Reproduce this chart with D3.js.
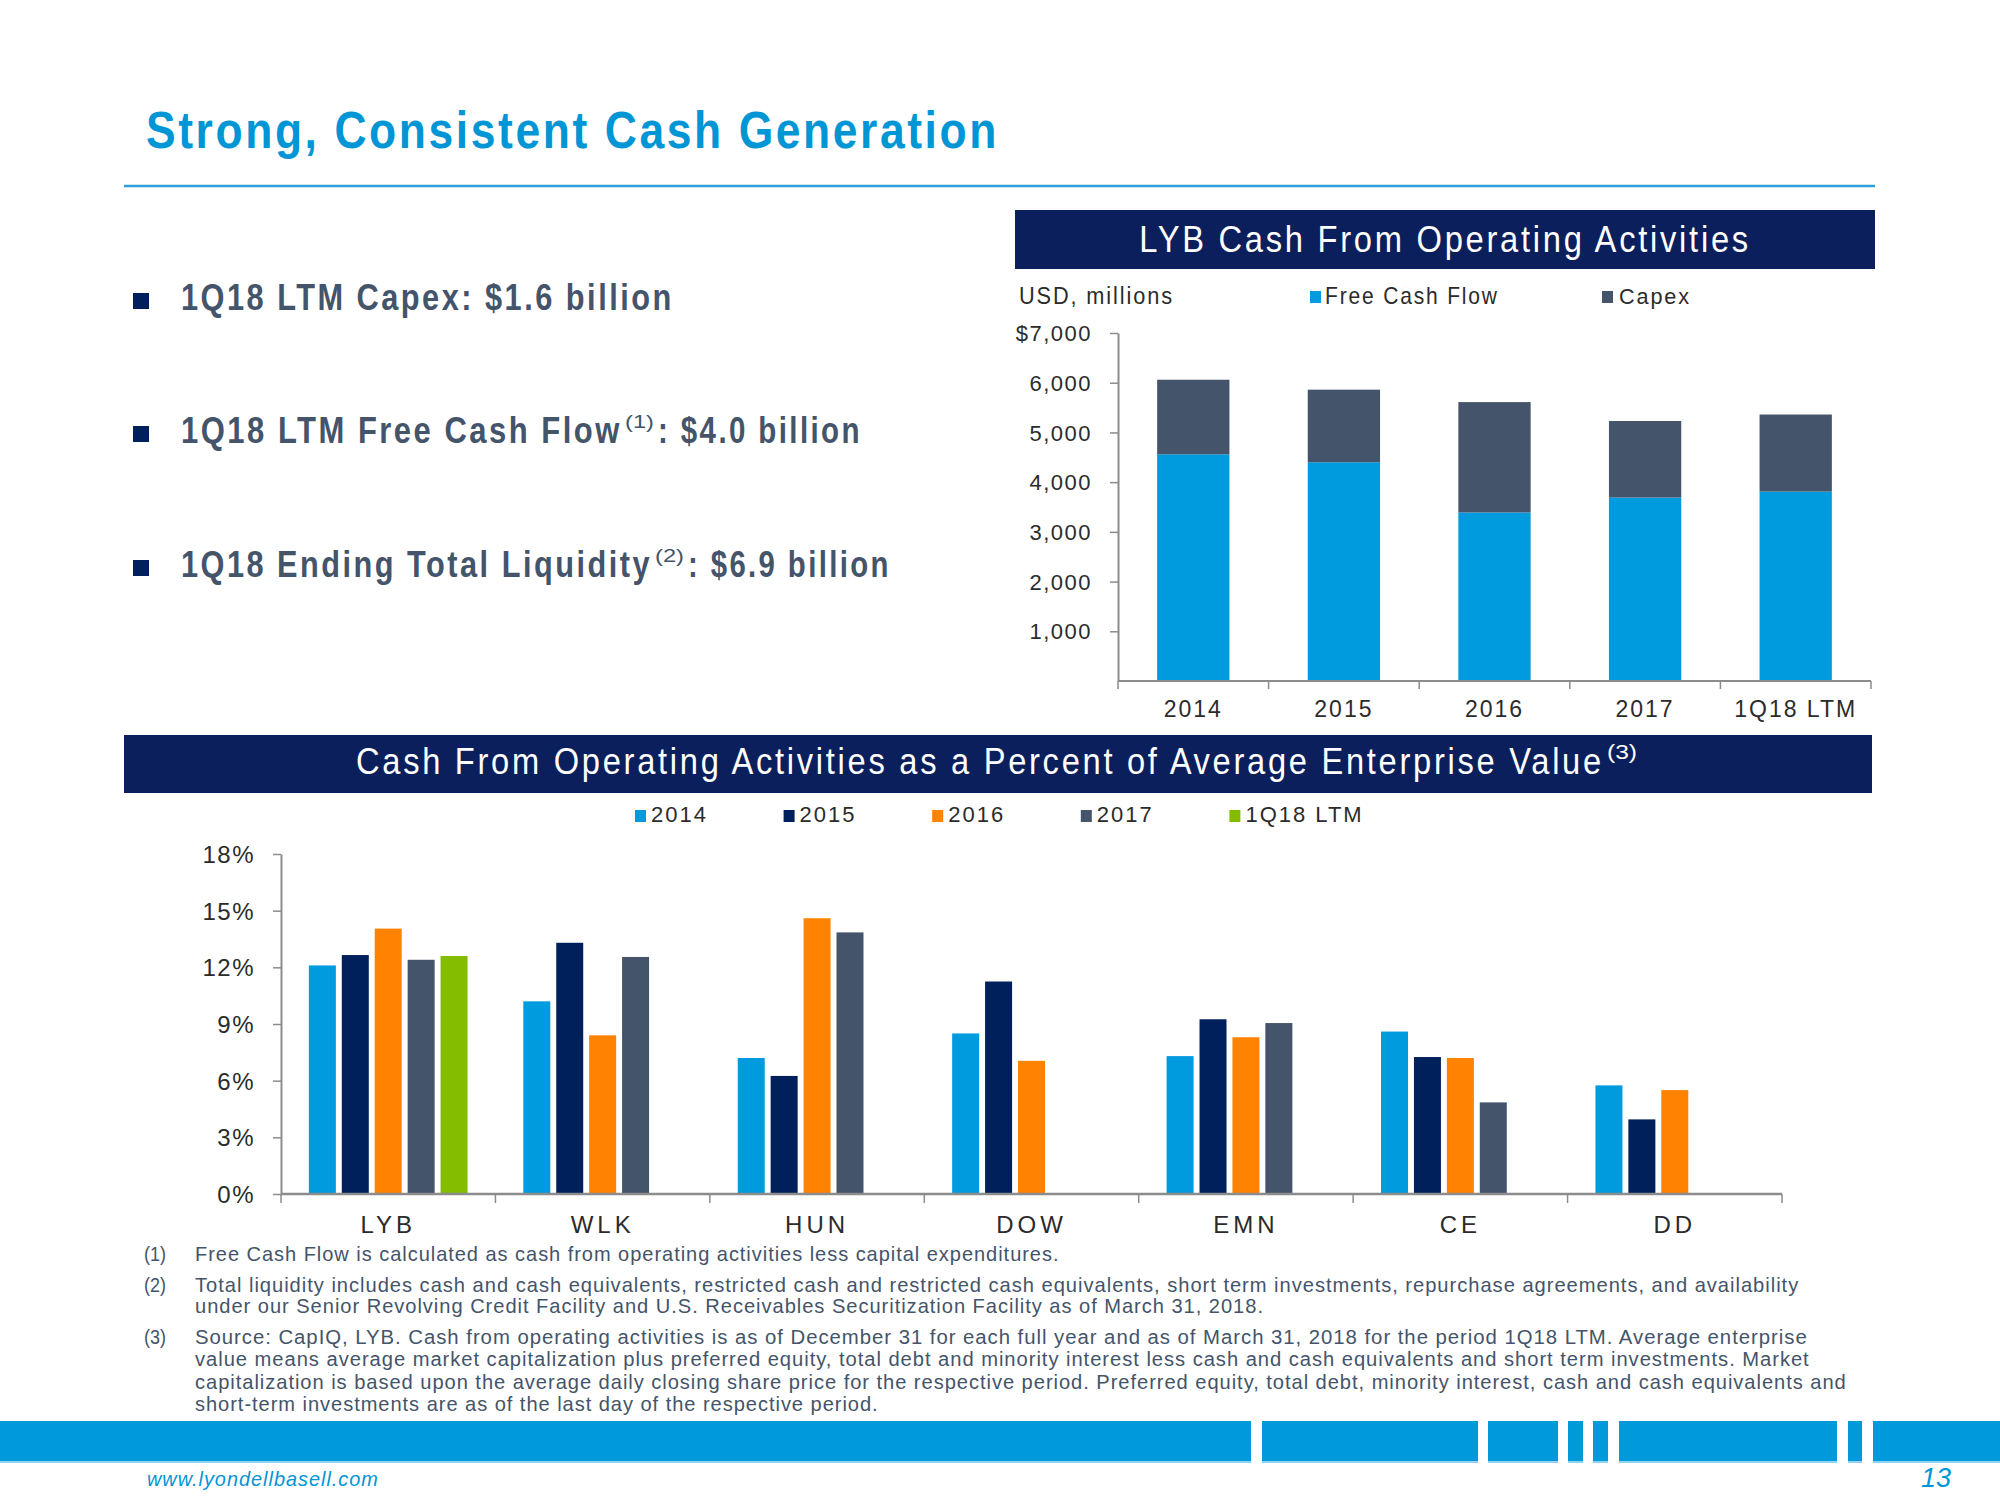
<!DOCTYPE html>
<html><head><meta charset="utf-8">
<script src="https://cdn.jsdelivr.net/npm/d3@7"></script>
<style>
body{margin:0;background:#fff;}
svg{display:block;}
text{font-family:"Liberation Sans Narrow","Arial Narrow","Liberation Sans",Arial,sans-serif;}
</style></head><body>
<svg id="c" width="2000" height="1500"></svg>
<script>
// ---------- DATA ----------
const years = ["2014", "2015", "2016", "2017", "1Q18 LTM"];
const freeCashFlow = [4560, 4400, 3390, 3690, 3810];
const capex = [1500, 1460, 2220, 1540, 1550];
const cfoTicks = [1000, 2000, 3000, 4000, 5000, 6000, 7000];

const companies = ["LYB", "WLK", "HUN", "DOW", "EMN", "CE", "DD"];
const seriesNames = ["2014", "2015", "2016", "2017", "1Q18 LTM"];
const pct2014 = [12.1, 10.2, 7.2, 8.5, 7.3, 8.6, 5.75];
const pct2015 = [12.65, 13.3, 6.25, 11.25, 9.25, 7.25, 3.95];
const pct2016 = [14.05, 8.4, 14.6, 7.05, 8.3, 7.2, 5.5];
const pct2017 = [12.4, 12.55, 13.85, null, 9.05, 4.85, null];
const pctLTM = [12.6, null, null, null, null, null, null];
const pctTicks = [0, 3, 6, 9, 12, 15, 18];

const bullets = [
  ["1Q18 LTM Capex: $1.6 billion", null, null],
  ["1Q18 LTM Free Cash Flow", "(1)", ": $4.0 billion"],
  ["1Q18 Ending Total Liquidity", "(2)", ": $6.9 billion"]
];
const footnotes = [
  ["(1)", ["Free Cash Flow is calculated as cash from operating activities less capital expenditures."]],
  ["(2)", ["Total liquidity includes cash and cash equivalents, restricted cash and restricted cash equivalents, short term investments, repurchase agreements, and availability",
           "under our Senior Revolving Credit Facility and U.S. Receivables Securitization Facility as of March 31, 2018."]],
  ["(3)", ["Source:  CapIQ, LYB. Cash from operating activities is as of December 31 for each full year and as of March 31, 2018 for the period 1Q18 LTM. Average enterprise",
           "value means average market capitalization plus preferred equity, total debt and minority interest less cash and cash equivalents and short term investments. Market",
           "capitalization is based upon the average daily closing share price for the respective period. Preferred equity, total debt, minority interest, cash and cash equivalents and",
           "short-term investments are as of the last day of the respective period."]]
];

// ---------- STYLE ----------
const C = {
  blue: "#009ADE", navy: "#00205B", orange: "#FF8200", slate: "#44546A", green: "#84BD00",
  header: "#0B1F5C", axis: "#8C8C8C", text: "#2B2B2B", gray: "#44546A"
};
const seriesColors = [C.blue, C.navy, C.orange, C.slate, C.green];

const svg = d3.select("#c");

// text helper; o.len fits the text to a width by horizontal scaling
function txt(parent, x, y, s, o = {}) {
  const t = parent.append("text").text(s)
    .attr("font-size", o.size || 20)
    .attr("fill", o.fill || C.text)
    .attr("text-anchor", o.anchor || "start");
  if (o.weight) t.attr("font-weight", o.weight);
  if (o.style) t.attr("font-style", o.style);
  if (o.ls) t.attr("letter-spacing", o.ls);
  if (o.len) {
    t.attr("x", 0).attr("y", 0);
    const w = t.node().getComputedTextLength();
    t.attr("transform", `translate(${x},${y}) scale(${w > 0 ? o.len / w : 1},1)`);
  } else {
    t.attr("x", x).attr("y", y);
  }
  return t;
}

// ---------- TITLE ----------
txt(svg, 146, 148, "Strong, Consistent Cash Generation", {size: 51, weight: "bold", fill: "#0096D6", ls: 3, len: 853});
svg.append("line").attr("x1", 124).attr("x2", 1875).attr("y1", 186).attr("y2", 186)
  .attr("stroke", "#2E9ED8").attr("stroke-width", 2.5);

// ---------- BULLETS ----------
const bulletY = [310, 443, 577];
const bulletSeg = [[181, 674], [181, 622, 625, 654, 658, 862], [181, 652, 655, 684, 688, 891]];
bullets.forEach((b, i) => {
  const y = bulletY[i], s = bulletSeg[i];
  svg.append("rect").attr("x", 133).attr("y", y - 17).attr("width", 16).attr("height", 16).attr("fill", C.navy);
  txt(svg, s[0], y, b[0], {size: 37, weight: "bold", fill: C.gray, ls: 3, len: s[1] - s[0]});
  if (b[1]) {
    txt(svg, s[2], y - 15, b[1], {size: 19, fill: C.gray, len: s[3] - s[2]});
    txt(svg, s[4], y, b[2], {size: 37, weight: "bold", fill: C.gray, ls: 3, len: s[5] - s[4]});
  }
});

// ---------- TOP CHART ----------
const topG = svg.append("g");
topG.append("rect").attr("x", 1015).attr("y", 210).attr("width", 860).attr("height", 59).attr("fill", C.header);
txt(topG, 1445, 252, "LYB Cash From Operating Activities", {size: 36, fill: "#fff", anchor: "middle", ls: 3, len: 612});
txt(topG, 1019, 304, "USD, millions", {size: 23, ls: 2, len: 155});
topG.append("rect").attr("x", 1310).attr("y", 291).attr("width", 11).attr("height", 12).attr("fill", C.blue);
txt(topG, 1325, 304, "Free Cash Flow", {size: 23, ls: 2, len: 174});
topG.append("rect").attr("x", 1602).attr("y", 291).attr("width", 11).attr("height", 12).attr("fill", C.slate);
txt(topG, 1619, 304, "Capex", {size: 23, ls: 2, len: 72});

const yT = d3.scaleLinear().domain([0, 7000]).range([681, 333]);
const xT = d3.scaleBand().domain(years).range([1118, 1871]).paddingInner(0.52).paddingOuter(0.26);
const stackData = years.map((y, i) => ({year: y, fcf: freeCashFlow[i], capex: capex[i]}));
const stacked = d3.stack().keys(["fcf", "capex"])(stackData);
const stackColors = {fcf: C.blue, capex: C.slate};
topG.selectAll("g.layer").data(stacked).join("g").attr("class", "layer").attr("fill", d => stackColors[d.key])
  .selectAll("rect").data(d => d).join("rect")
  .attr("x", d => xT(d.data.year)).attr("width", xT.bandwidth())
  .attr("y", d => yT(d[1])).attr("height", d => yT(d[0]) - yT(d[1]));

const yAxT = topG.append("g").attr("transform", "translate(1118,0)")
  .call(d3.axisLeft(yT).tickValues(cfoTicks).tickSize(8).tickPadding(18).tickSizeOuter(0)
    .tickFormat(d => d === 7000 ? "$7,000" : d3.format(",")(d)));
yAxT.select(".domain").attr("stroke", C.axis).attr("stroke-width", 2);
yAxT.selectAll(".tick line").attr("stroke", C.axis).attr("stroke-width", 1.5);
yAxT.selectAll(".tick text").attr("font-size", 22).attr("fill", C.text).attr("letter-spacing", 1.5)
  .attr("font-family", "Liberation Sans Narrow, Arial Narrow, Liberation Sans, sans-serif").attr("dy", "0.35em");

const stepT = xT.step();
const bT = years.map(d => xT(d) - stepT * xT.paddingInner() / 2).concat([1871]);
topG.append("line").attr("x1", 1118).attr("x2", 1871).attr("y1", yT(0)).attr("y2", yT(0))
  .attr("stroke", C.axis).attr("stroke-width", 2);
topG.selectAll("line.xt").data(bT).join("line").attr("class", "xt")
  .attr("x1", d => d).attr("x2", d => d).attr("y1", yT(0)).attr("y2", yT(0) + 8)
  .attr("stroke", C.axis).attr("stroke-width", 1.5);
years.forEach(y => txt(topG, xT(y) + xT.bandwidth() / 2, 717, y, {size: 23, anchor: "middle", ls: 2}));

// ---------- BOTTOM CHART ----------
const botG = svg.append("g");
botG.append("rect").attr("x", 124).attr("y", 735).attr("width", 1748).attr("height", 58).attr("fill", C.header);
txt(botG, 356, 774, "Cash From Operating Activities as a Percent of Average Enterprise Value", {size: 36, fill: "#fff", ls: 3, len: 1248});
txt(botG, 1607, 759, "(3)", {size: 20, fill: "#fff", len: 30});

const xL = d3.scaleBand().domain(seriesNames).range([635, 635 + 5 * 148.6]);
seriesNames.forEach((s, i) => {
  botG.append("rect").attr("x", xL(s)).attr("y", 810).attr("width", 11).attr("height", 12).attr("fill", seriesColors[i]);
  txt(botG, xL(s) + 16, 822, s, {size: 22, ls: 2});
});

const yB = d3.scaleLinear().domain([0, 18]).range([1194, 854]);
const xB = d3.scaleBand().domain(companies).range([281, 1782]).paddingInner(0.26).paddingOuter(0.13);
const xS = d3.scaleBand().domain(seriesNames).range([0, xB.bandwidth()]).paddingInner(0.18);
const pctSeries = [pct2014, pct2015, pct2016, pct2017, pctLTM];
const barData = [];
companies.forEach((c, ci) => pctSeries.forEach((arr, si) => {
  if (arr[ci] != null) barData.push({c, s: seriesNames[si], v: arr[ci], col: seriesColors[si]});
}));
botG.selectAll("rect.bar").data(barData).join("rect").attr("class", "bar")
  .attr("x", d => xB(d.c) + xS(d.s)).attr("width", xS.bandwidth())
  .attr("y", d => yB(d.v)).attr("height", d => yB(0) - yB(d.v)).attr("fill", d => d.col);

const yAxB = botG.append("g").attr("transform", "translate(281,0)")
  .call(d3.axisLeft(yB).tickValues(pctTicks).tickSize(8).tickPadding(18).tickSizeOuter(0).tickFormat(d => d + "%"));
yAxB.select(".domain").attr("stroke", C.axis).attr("stroke-width", 2);
yAxB.selectAll(".tick line").attr("stroke", C.axis).attr("stroke-width", 1.5);
yAxB.selectAll(".tick text").attr("font-size", 24).attr("fill", C.text).attr("letter-spacing", 1.5)
  .attr("font-family", "Liberation Sans Narrow, Arial Narrow, Liberation Sans, sans-serif").attr("dy", "0.35em");

const stepB = xB.step();
const bB = companies.map(d => xB(d) - stepB * xB.paddingInner() / 2).concat([1782]);
botG.append("line").attr("x1", 281).attr("x2", 1782).attr("y1", yB(0)).attr("y2", yB(0))
  .attr("stroke", C.axis).attr("stroke-width", 2.5);
botG.selectAll("line.xt").data(bB).join("line").attr("class", "xt")
  .attr("x1", d => d).attr("x2", d => d).attr("y1", yB(0)).attr("y2", yB(0) + 9)
  .attr("stroke", C.axis).attr("stroke-width", 1.5);
companies.forEach(c => txt(botG, xB(c) + xB.bandwidth() / 2, 1233, c, {size: 24, anchor: "middle", ls: 4}));

// ---------- FOOTNOTES ----------
const fnBase = [[1261], [1292, 1313], [1344, 1366, 1389, 1411]];
const fnEnd = [[1060], [1800, 1265], [1809, 1811, 1848, 879]];
footnotes.forEach((f, i) => {
  txt(svg, 144, fnBase[i][0], f[0], {size: 21, fill: C.gray, len: 22});
  f[1].forEach((line, j) => txt(svg, 195, fnBase[i][j], line, {size: 21, fill: C.gray, ls: 1, len: fnEnd[i][j] - 195}));
});

// ---------- FOOTER ----------
const segs = [[0, 1251], [1262, 1478], [1488, 1558], [1568, 1583], [1593, 1608], [1619, 1837], [1848, 1862], [1873, 2000]];
segs.forEach(s => {
  svg.append("rect").attr("x", s[0]).attr("y", 1421).attr("width", s[1] - s[0]).attr("height", 41).attr("fill", "#0099DA");
  svg.append("rect").attr("x", s[0]).attr("y", 1461).attr("width", s[1] - s[0]).attr("height", 2).attr("fill", "#8ED4F2");
});
txt(svg, 147, 1486, "www.lyondellbasell.com", {size: 20, style: "italic", fill: "#0096D6", ls: 1, len: 232});
txt(svg, 1951, 1487, "13", {size: 27, style: "italic", fill: "#0096D6", anchor: "end"});
</script>
</body></html>
